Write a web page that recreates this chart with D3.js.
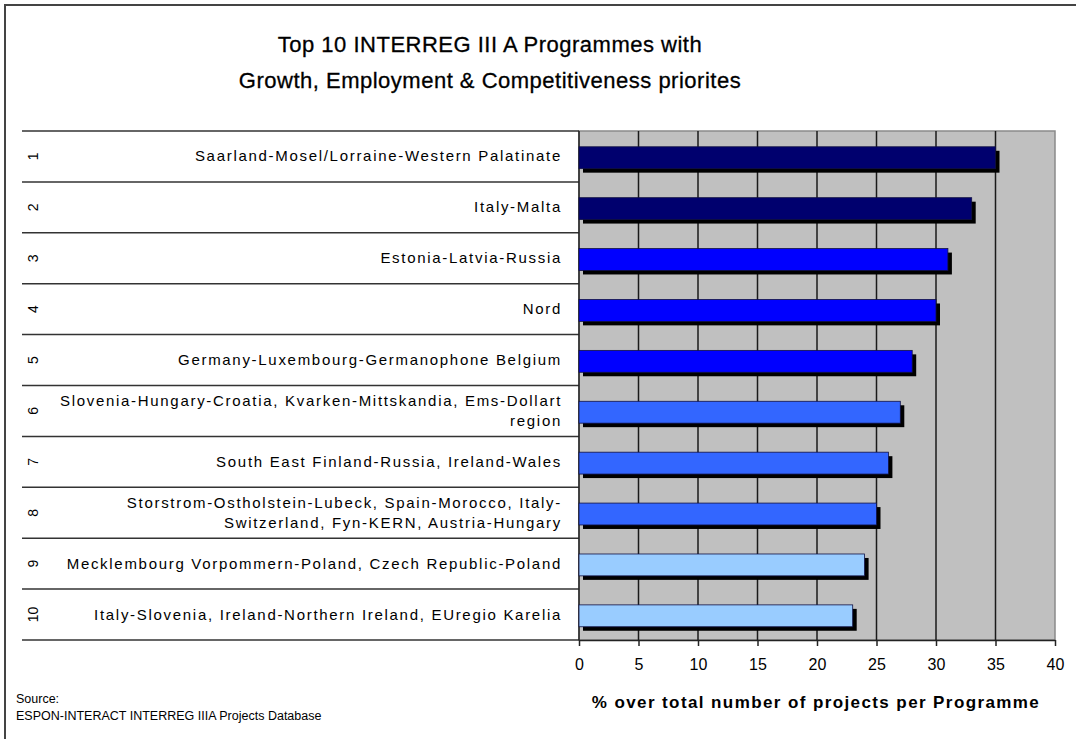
<!DOCTYPE html>
<html lang="en">
<head>
    <meta charset="UTF-8">
    <title>Top 10 INTERREG III A Programmes</title>
    <script src="https://d3js.org/d3.v7.min.js"></script>
    <style>
        body { margin: 0; background: #fff; }
        text { font-family: Arial, "Liberation Sans", sans-serif; fill: #000; }
    </style>
</head>
<body>
    <svg></svg>
    <script>
        const ranks = ["1", "2", "3", "4", "5", "6", "7", "8", "9", "10"];
        const programmes = [
            ["Saarland-Mosel/Lorraine-Western Palatinate"],
            ["Italy-Malta"],
            ["Estonia-Latvia-Russia"],
            ["Nord"],
            ["Germany-Luxembourg-Germanophone Belgium"],
            ["Slovenia-Hungary-Croatia, Kvarken-Mittskandia, Ems-Dollart", "region"],
            ["South East Finland-Russia, Ireland-Wales"],
            ["Storstrom-Ostholstein-Lubeck, Spain-Morocco, Italy-", "Switzerland, Fyn-KERN, Austria-Hungary"],
            ["Mecklembourg Vorpommern-Poland, Czech Republic-Poland"],
            ["Italy-Slovenia, Ireland-Northern Ireland, EUregio Karelia"]
        ];
        const shares = [35, 33, 31, 30, 28, 27, 26, 25, 24, 23];
        const xTicks = [0, 5, 10, 15, 20, 25, 30, 35, 40];
        const titleLines = ["Top 10 INTERREG III A Programmes with", "Growth, Employment & Competitiveness priorites"];
        const xTitle = "% over total number of projects per Programme";
        const sourceLines = ["Source:", "ESPON-INTERACT INTERREG IIIA Projects Database"];

        const width = 1076, height = 739;
        const plot = {left: 579, right: 1055, top: 131, bottom: 640};

        const svg = d3.select("svg").attr("width", width).attr("height", height);

        // outer frame (only left/top edges visible in the picture)
        svg.append("rect")
            .attr("x", 5).attr("y", 5)
            .attr("width", width + 20).attr("height", height + 20)
            .attr("fill", "#fff").attr("stroke", "#444").attr("stroke-width", 2);

        const x = d3.scaleLinear().domain([0, 40]).range([plot.left, plot.right]);
        const y = d3.scaleBand().domain(ranks).range([plot.top, plot.bottom]);
        const color = d3.scaleThreshold().domain([2, 5, 8]).range(["#00006e", "#0000ff", "#3366ff", "#99ccff"]);

        // title
        svg.append("g").selectAll("text")
            .data(titleLines)
            .join("text")
            .attr("x", 490)
            .attr("y", (d, i) => 52 + i * 36)
            .attr("text-anchor", "middle")
            .style("font-size", "22px")
            .style("letter-spacing", "0.5px")
            .style("stroke", "#000").style("stroke-width", 0.3)
            .text(d => d);

        // plot background
        svg.append("rect")
            .attr("x", plot.left).attr("y", plot.top)
            .attr("width", plot.right - plot.left).attr("height", plot.bottom - plot.top)
            .attr("fill", "#c0c0c0").attr("stroke", "#8a8a8a").attr("stroke-width", 1.5);

        // vertical gridlines
        svg.append("g").selectAll("line")
            .data(xTicks.filter(t => t > 0 && t < 40))
            .join("line")
            .attr("x1", d => x(d)).attr("x2", d => x(d))
            .attr("y1", plot.top).attr("y2", plot.bottom)
            .attr("stroke", "#1a1a1a").attr("stroke-width", 1.5);

        // table rows on the left
        const boundaries = ranks.map(r => y(r)).concat([plot.bottom]);
        svg.append("g").selectAll("line")
            .data(boundaries)
            .join("line")
            .attr("x1", 22).attr("x2", plot.left)
            .attr("y1", d => d).attr("y2", d => d)
            .attr("stroke", "#333").attr("stroke-width", 1.5);

        svg.append("line")
            .attr("x1", plot.left).attr("x2", plot.left)
            .attr("y1", plot.top).attr("y2", plot.bottom)
            .attr("stroke", "#222").attr("stroke-width", 1.5);

        const bw = y.bandwidth();

        // rank numbers, rotated
        svg.append("g").selectAll("text")
            .data(ranks)
            .join("text")
            .attr("transform", d => `translate(38,${y(d) + bw / 2}) rotate(-90)`)
            .attr("text-anchor", "middle")
            .style("font-size", "14px")
            .text(d => d);

        // programme names
        const labels = svg.append("g").selectAll("text")
            .data(programmes)
            .join("text")
            .attr("text-anchor", "end")
            .style("font-size", "15px")
            .style("letter-spacing", "1.7px");
        labels.each(function(lines, i) {
            const cy = y(ranks[i]) + bw / 2 + 5;
            const off = (lines.length - 1) * 10;
            d3.select(this).selectAll("tspan")
                .data(lines)
                .join("tspan")
                .attr("x", 562)
                .attr("y", (d, j) => cy - off + j * 20)
                .text(d => d);
        });

        // bars with drop shadow
        const barTop = r => y(r) + bw * 0.31;
        const barH = bw * 0.43;
        svg.append("g").selectAll("rect")
            .data(shares)
            .join("rect")
            .attr("x", plot.left + 4)
            .attr("y", (d, i) => barTop(ranks[i]) + 4)
            .attr("width", d => x(d) - plot.left)
            .attr("height", barH)
            .attr("fill", "#000");
        svg.append("g").selectAll("rect")
            .data(shares)
            .join("rect")
            .attr("x", plot.left)
            .attr("y", (d, i) => barTop(ranks[i]))
            .attr("width", d => x(d) - plot.left)
            .attr("height", barH)
            .attr("fill", (d, i) => color(i))
            .attr("stroke", "#111144").attr("stroke-width", 0.8);

        // x axis
        const xAxis = svg.append("g")
            .attr("transform", `translate(0,${plot.bottom})`)
            .call(d3.axisBottom(x).tickValues(xTicks).tickSize(6).tickSizeOuter(0).tickPadding(13));
        xAxis.select(".domain").attr("stroke", "#222").attr("stroke-width", 1.5);
        xAxis.selectAll(".tick line").attr("stroke", "#222").attr("stroke-width", 1.5);
        xAxis.selectAll(".tick text")
            .style("font-family", "Arial, 'Liberation Sans', sans-serif")
            .style("font-size", "16px")
            .attr("fill", "#000");

        svg.append("text")
            .attr("x", 816).attr("y", 708)
            .attr("text-anchor", "middle")
            .style("font-size", "17px")
            .style("font-weight", "bold")
            .style("letter-spacing", "1.4px")
            .text(xTitle);

        // source note
        svg.append("g").selectAll("text")
            .data(sourceLines)
            .join("text")
            .attr("x", 16)
            .attr("y", (d, i) => 703 + i * 17)
            .style("font-size", "12.5px")
            .text(d => d);
    </script>
</body>
</html>
